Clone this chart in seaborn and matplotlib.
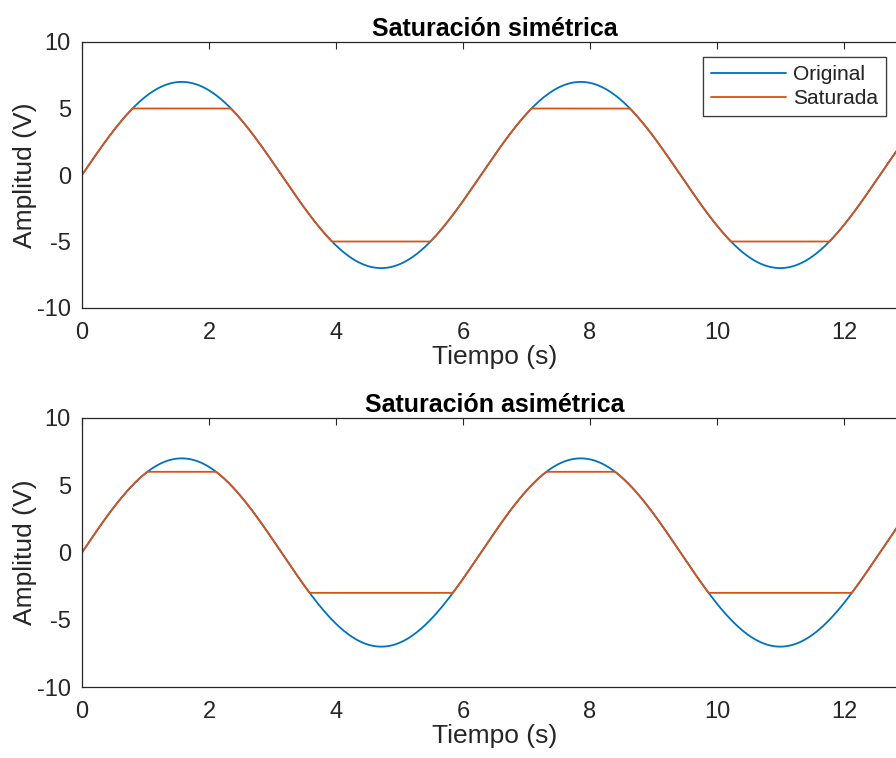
import numpy as np
import matplotlib
matplotlib.use("Agg")
import matplotlib.pyplot as plt
import seaborn as sns
import pandas as pd

# Signal parameters
amplitude = 7.0
t_start, t_end, n_samples = 0.0, 13.0, 1301
titles = ["Saturación simétrica", "Saturación asimétrica"]
upper_limits = [5.0, 6.0]
lower_limits = [-5.0, -3.0]
series_names = ["Original", "Saturada"]
x_ticks = [0, 2, 4, 6, 8, 10, 12]
y_ticks = [-10, -5, 0, 5, 10]

sns.set_theme(style="white")
plt.rcParams['font.family'] = ['Liberation Sans', 'DejaVu Sans']
plt.rcParams['axes.unicode_minus'] = False

colors = ["#0072BD", "#D95319"]
t = np.linspace(t_start, t_end, n_samples)
original = amplitude * np.sin(t)

fig = plt.figure(figsize=(8.96, 7.58), dpi=100)
W, H = 896, 758
ax_px = [(82, 42, 308), (82, 418, 687)]
px_per_unit = 63.5
for i, (left, top, bottom) in enumerate(ax_px):
    width = (t_end - t_start) * px_per_unit
    ax = fig.add_axes([left / W, 1 - bottom / H, width / W, (bottom - top) / H])
    sat = np.clip(original, lower_limits[i], upper_limits[i])
    df = pd.DataFrame({"t": np.concatenate([t, t]),
                       "v": np.concatenate([original, sat]),
                       "s": [series_names[0]] * len(t) + [series_names[1]] * len(t)})
    sns.lineplot(data=df, x="t", y="v", hue="s", palette=colors, ax=ax,
                 linewidth=1.3, legend=False, sort=False, estimator=None)
    ax.set_xlim(t_start, t_end)
    ax.set_ylim(-10, 10)
    ax.set_xticks(x_ticks)
    ax.set_yticks(y_ticks)
    ax.tick_params(direction="in", length=5, width=0.8, top=True, right=True,
                   labelsize=17, colors="#262626", pad=8)
    ax.tick_params(axis="x", pad=10)
    for sp in ax.spines.values():
        sp.set_color("#262626")
        sp.set_linewidth(0.9)
    ax.set_xlabel("Tiempo (s)", fontsize=19, color="#262626", labelpad=1)
    ax.set_ylabel("Amplitud (V)", fontsize=19, color="#262626", labelpad=0)
    ax.set_title(titles[i], fontsize=18, fontweight="bold", color="black", pad=4)
    handles = [plt.Line2D([], [], color=c, linewidth=1.3) for c in colors]
    leg = ax.legend(handles, series_names, loc="upper right",
                    bbox_to_anchor=((886 - left) / width, 1 - (57 - top) / (bottom - top)),
                    borderaxespad=0, fontsize=15, frameon=True, fancybox=False,
                    handlelength=3.6, handletextpad=0.3, borderpad=0.4,
                    labelspacing=0.22, edgecolor="#262626")
    leg.get_frame().set_linewidth(0.9)
    for txt in leg.get_texts():
        txt.set_color("#262626")

fig.savefig("out.png", dpi=100)
